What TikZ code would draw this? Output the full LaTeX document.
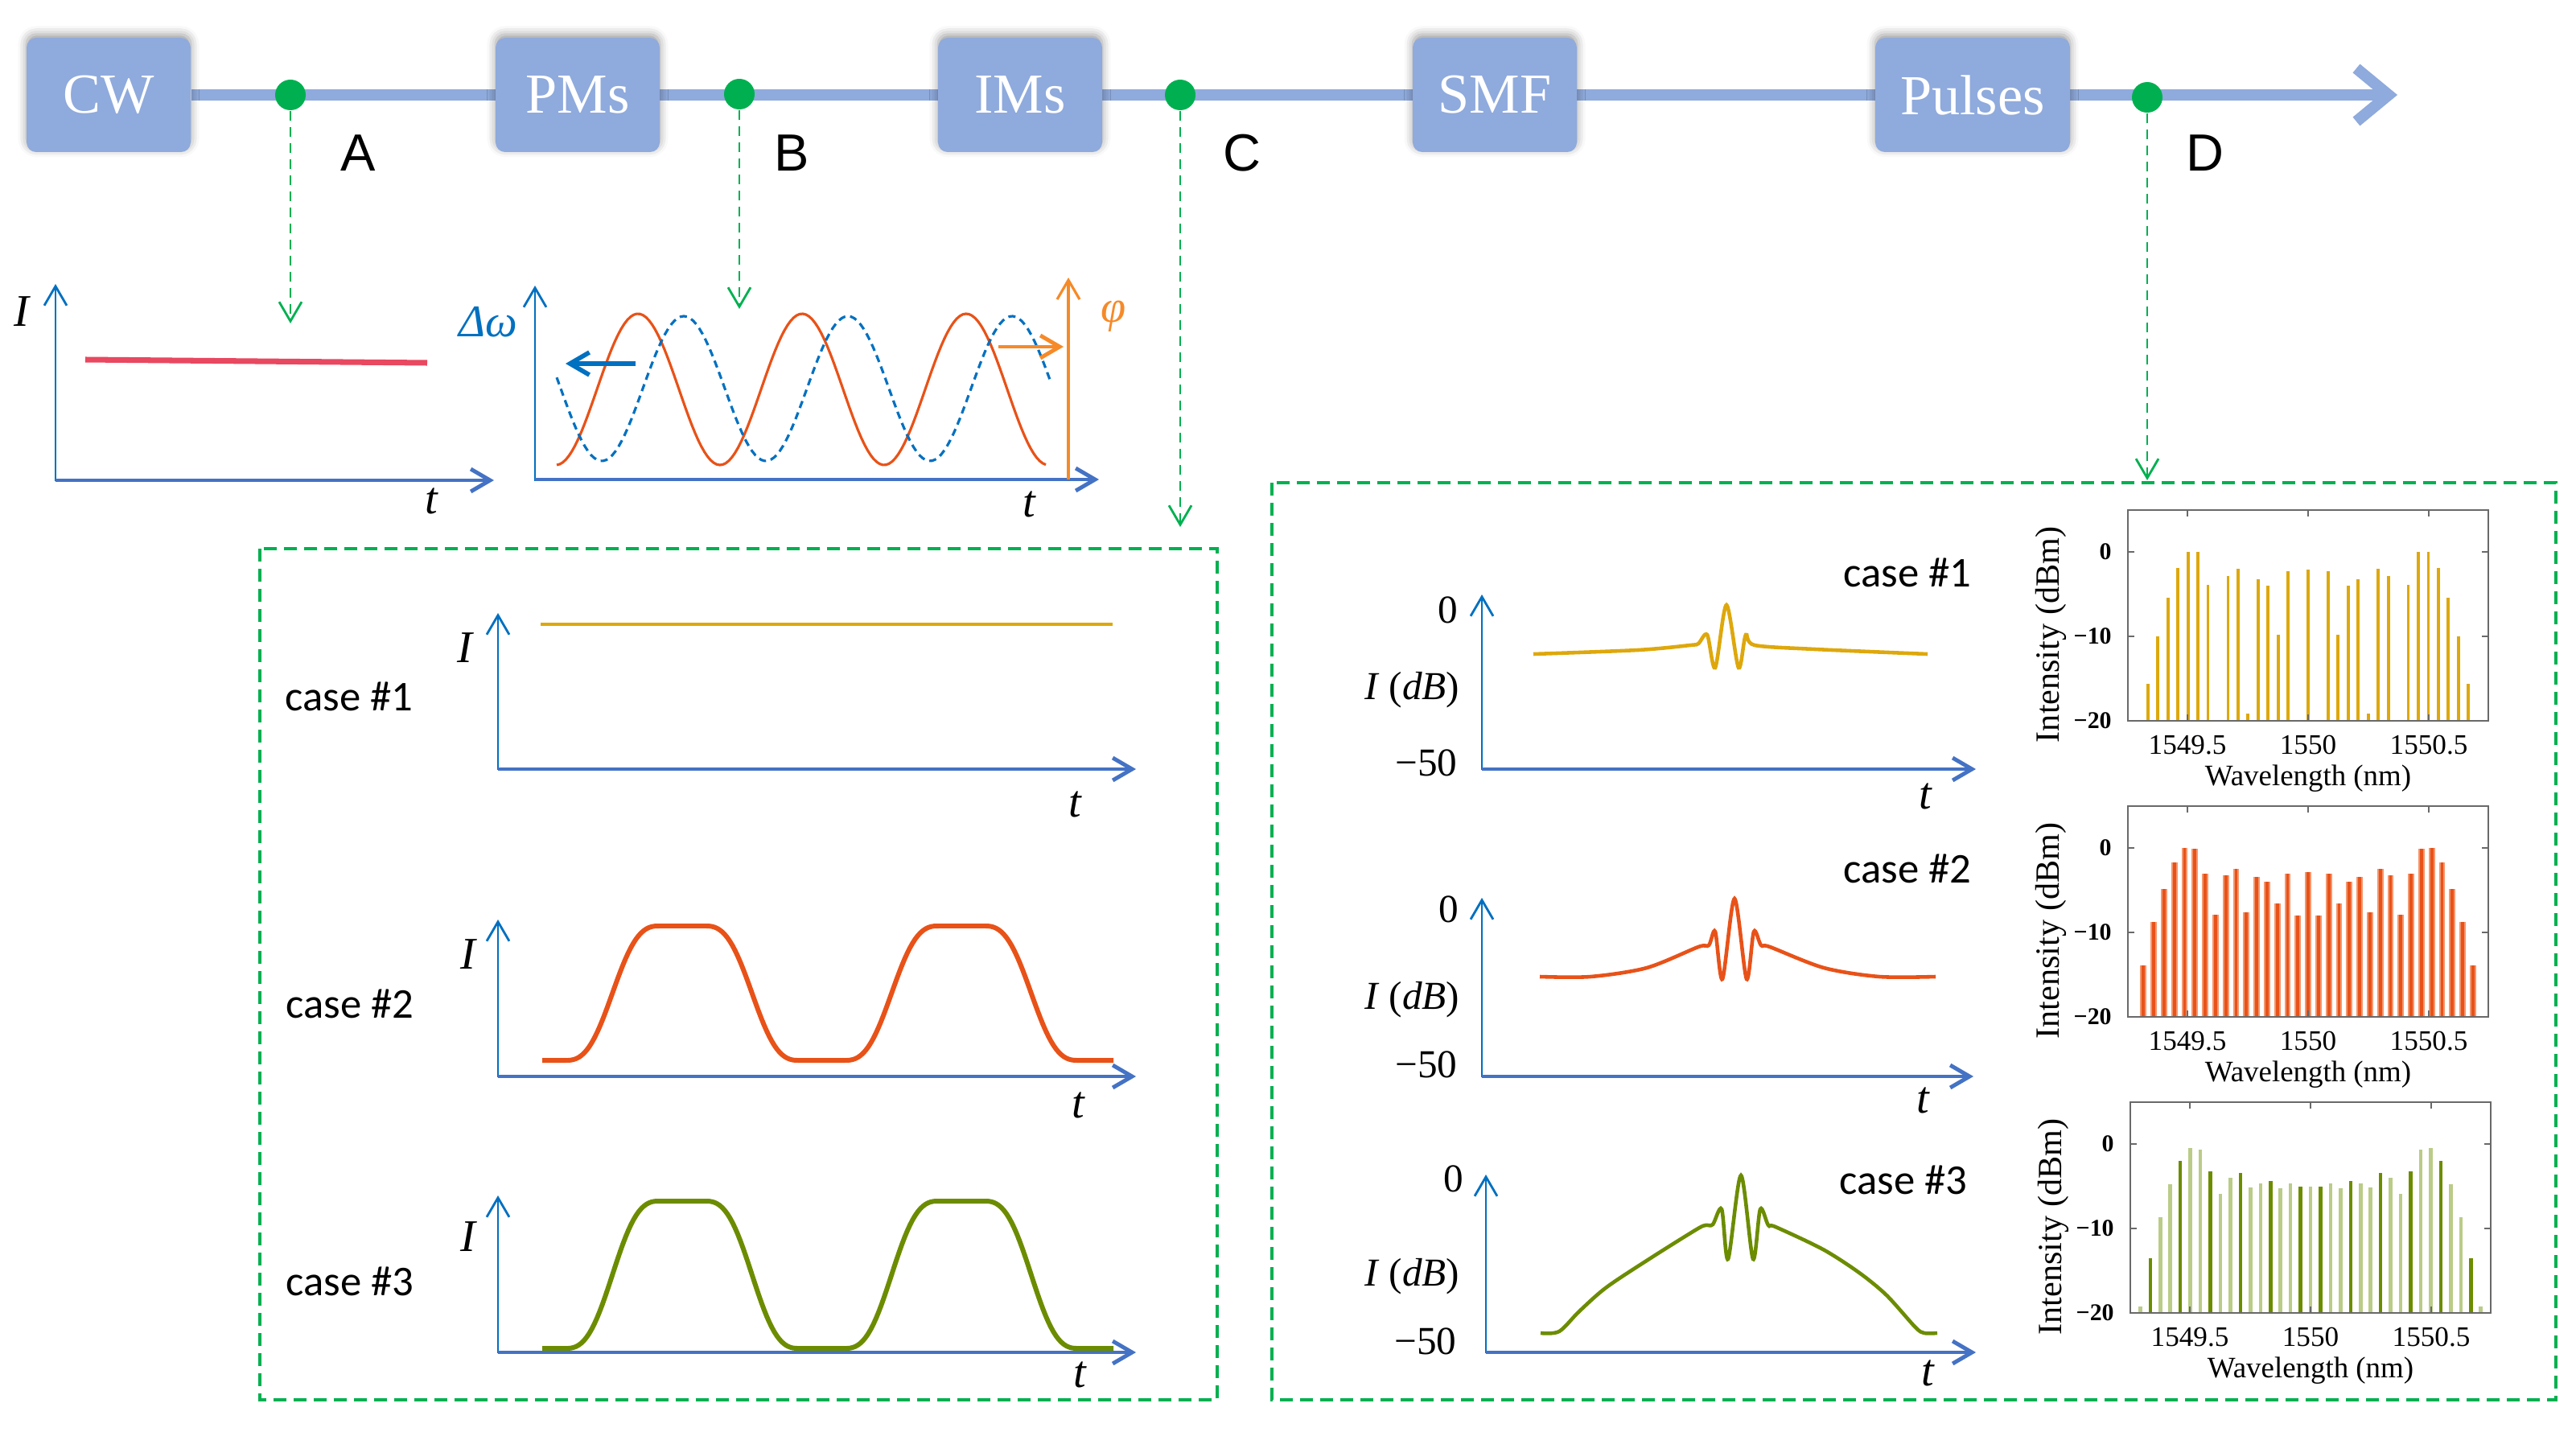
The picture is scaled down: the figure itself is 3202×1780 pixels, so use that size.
\documentclass[tikz,border=0pt]{standalone}
\usepackage{fontspec}
\setmainfont{Liberation Serif}
\newfontfamily\ptfont{Liberation Sans}
\newfontfamily\casefont{Carlito}
\usetikzlibrary{arrows.meta,backgrounds,shadows.blur}
\definecolor{BoxBlue}{RGB}{143,170,220}
\definecolor{DotGreen}{RGB}{0,176,80}
\definecolor{AxisBlue}{RGB}{0,112,192}
\definecolor{AxisLight}{RGB}{68,114,196}
\definecolor{CwRed}{RGB}{232,72,96}
\definecolor{PulseOrange}{RGB}{232,82,24}
\definecolor{BarOrange}{RGB}{244,150,110}
\definecolor{PhaseOrange}{RGB}{246,138,40}
\definecolor{CaseGold}{RGB}{222,168,12}
\definecolor{CaseGreen}{RGB}{108,140,0}
\definecolor{LightGreen}{RGB}{186,204,136}
\definecolor{FrameGray}{RGB}{105,105,105}
\newcommand{\specaxes}{%
 \draw[specframe] (-224,0) rectangle (224,-262);
 \foreach \u in {-150,0,150}{\draw[specframe] (\u,0) -- (\u,-8); \draw[specframe] (\u,-262) -- (\u,-254);}
 \foreach \v in {0,-105,-210}{\draw[specframe] (-224,\v) -- (-216,\v); \draw[specframe] (224,\v) -- (216,\v);}
 \node[xtick] (xa) at (-150,30) {1549.5};
 \node[xtick] (xb) at (0,30) {1550};
 \node[xtick] (xc) at (150,30) {1550.5};
 \node[ytick] (ya) at (-232,-210) {0};
 \node[ytick] (yb) at (-232,-105) {−10};
 \node[ytick] (yc) at (-232,0) {−20};
 \node[wlab] (wl) at (0,72) {Wavelength (nm)};
 \node[ylab] (il) at (-320,-107) {Intensity (dBm)};}

\begin{document}
\begin{tikzpicture}[x=0.1mm,y=-0.1mm,>={Straight Barb[length=2.4mm,width=2.8mm]},
 blk/.style={rectangle,rounded corners=1.2mm,fill=BoxBlue,text=white,minimum width=20.4mm,
  minimum height=14.2mm,font=\fontsize{20}{22}\selectfont,
  blur shadow={shadow xshift=0pt,shadow yshift=1.2pt,shadow blur radius=3pt,shadow opacity=40}},
 mainline/.style={BoxBlue,line width=4pt,-{Straight Barb[length=4mm,width=6.6mm]}},
 tap/.style={circle,fill=DotGreen,minimum size=3.8mm,inner sep=0pt},
 taplab/.style={font=\ptfont\fontsize{18.5}{20}\selectfont},
 probe/.style={->,DotGreen,line width=0.8pt,dash pattern=on 1.2mm off 0.8mm},
 grpbox/.style={DotGreen,line width=1.1pt,dash pattern=on 1.6mm off 0.9mm},
 vax/.style={->,AxisBlue,line width=0.8pt},
 hax/.style={->,AxisLight,line width=1.4pt},
 var/.style={font=\itshape\fontsize{16}{18}\selectfont},
 caselab/.style={font=\casefont\fontsize{15}{17}\selectfont},
 dblab/.style={font=\fontsize{14}{16}\selectfont},
 specframe/.style={FrameGray,line width=0.7pt},
 xtick/.style={font=\fontsize{10}{12}\selectfont},
 ytick/.style={font=\bfseries\fontsize{8.5}{10}\selectfont,anchor=east},
 ylab/.style={font=\fontsize{12}{14}\selectfont,rotate=90},
 wlab/.style={font=\fontsize{10.5}{12}\selectfont}]
\useasboundingbox (0,0) rectangle (3202,1780);

\node[blk] (cw) at (135,118) {CW};
\node[blk] (pm) at (718,118) {PMs};
\node[blk] (im) at (1268,118) {IMs};
\node[blk] (smf) at (1858,118) {SMF};
\node[blk,minimum width=24.2mm] (pul) at (2452,118) {Pulses};
\coordinate (tip) at (2980,118);
\begin{pgfonlayer}{background}
\draw[mainline] (cw.east) -- (tip);
\end{pgfonlayer}
\node[tap] (pA) at (361,118) {};
\node[tap] (pB) at (919,117) {};
\node[tap] (pC) at (1467,118) {};
\node[tap] (pD) at (2669,121) {};
\node[taplab] (labA) at (445,190) {A};
\node[taplab] (labB) at (984,190) {B};
\node[taplab] (labC) at (1544,190) {C};
\node[taplab] (labD) at (2741,190) {D};
\coordinate (endA) at (361,402);
\coordinate (endB) at (919,384);
\coordinate (endC) at (1467,655);
\coordinate (endD) at (2669,597);
\draw[probe] (pA) -- (endA);
\draw[probe] (pB) -- (endB);
\draw[probe] (pC) -- (endC);
\draw[probe] (pD) -- (endD);

\draw[vax] (69,598) -- (69,353);
\draw[hax] (69,597) -- (614,597);
\draw[CwRed,line width=2pt] (106,447) -- (531,451);
\node[var] (iA) at (27,387) {I};
\node[var] (tA) at (536,623) {t};

\draw[vax] (665,598) -- (665,355);
\draw[hax] (665,596) -- (1366,596);
\draw[->,PhaseOrange,line width=0.9pt] (1328,596) -- (1328,345);
\draw[PulseOrange,line width=0.9pt,domain=692:1300,samples=160] plot (\x,{484-94*cos((\x-793)/204*360)});
\draw[AxisBlue,line width=0.9pt,dash pattern=on 0.9mm off 0.6mm,domain=692:1305,samples=160] plot (\x,{483-90*cos((\x-850)/204*360)});
\draw[->,AxisBlue,line width=1.6pt] (790,452) -- (703,452);
\draw[->,PhaseOrange,line width=1.4pt] (1241,431) -- (1322,431);
\node[var,text=AxisBlue] (dw) at (607,400) {Δω};
\node[var,text=PhaseOrange] (phi) at (1384,393) {φ};
\node[var] (tB) at (1279,627) {t};

\draw[grpbox] (323,682) rectangle (1513,1740);
\draw[vax] (619,957) -- (619,762);
\draw[hax] (619,956) -- (1412,956);
\draw[CaseGold,line width=1.2pt] (672,776) -- (1383,776);
\node[caselab] (c1) at (434,866) {case \#1};
\node[var] (i1) at (578,805) {I};
\node[var] (t1) at (1336,1000) {t};

\draw[vax] (619,1339) -- (619,1143);
\draw[hax] (619,1338) -- (1412,1338);
\draw[PulseOrange,line width=1.7pt,domain=674:1384,samples=220] plot (\x,{1318-83.5*(1+sin(90*max(-1,min(1,cos((\x-848)/347*360)/0.85))))});
\node[caselab] (c2) at (435,1248) {case \#2};
\node[var] (i2) at (582,1186) {I};
\node[var] (t2) at (1340,1374) {t};

\draw[vax] (619,1682) -- (619,1486);
\draw[hax] (619,1681) -- (1412,1681);
\draw[CaseGreen,line width=1.7pt,domain=674:1384,samples=220] plot (\x,{1676-91.5*(1+sin(90*max(-1,min(1,cos((\x-848)/347*360)/0.85))))});
\node[caselab] (c3) at (435,1593) {case \#3};
\node[var] (i3) at (582,1537) {I};
\node[var] (t3) at (1342,1709) {t};

\draw[grpbox] (1581,600) rectangle (3177,1740);
\draw[vax] (1842,957) -- (1842,739);
\draw[hax] (1842,956) -- (2456,956);
\draw[CaseGold,line width=1.3pt] plot[smooth,tension=0.5] coordinates {(1906,813) (2036,808) (2101,802) (2111,800) (2122,789) (2132,830) (2146,752) (2161,830) (2170,789) (2181,802) (2256,807) (2396,813)};
\node[dblab] (z1) at (1800,758) {0};
\node[dblab] (d1) at (1755,858) {\textit{I} (\textit{dB})};
\node[dblab] (m1) at (1773,948) {−50};
\node[var] (u1) at (2393,990) {t};
\node[caselab] (k1) at (2371,712) {case \#1};

\draw[vax] (1842,1339) -- (1842,1116);
\draw[hax] (1842,1338) -- (2453,1338);
\draw[PulseOrange,line width=1.3pt] plot[smooth,tension=0.5] coordinates {(1914,1214) (1977,1214) (2047,1203) (2111,1177) (2124,1175) (2132,1158) (2141,1217) (2156,1117) (2171,1217) (2180,1158) (2189,1175) (2200,1177) (2267,1203) (2336,1214) (2406,1214)};
\node[dblab] (z2) at (1801,1130) {0};
\node[dblab] (d2) at (1755,1243) {\textit{I} (\textit{dB})};
\node[dblab] (m2) at (1773,1323) {−50};
\node[var] (u2) at (2390,1368) {t};
\node[caselab] (k2) at (2371,1080) {case \#2};

\draw[vax] (1847,1682) -- (1847,1460);
\draw[hax] (1847,1681) -- (2456,1681);
\draw[CaseGreen,line width=1.3pt] plot[smooth,tension=0.5] coordinates {(1915,1657) (1938,1655) (1963,1630) (1997,1600) (2053,1563) (2109,1528) (2120,1523) (2129,1522) (2140,1503) (2148,1565) (2164,1461) (2179,1565) (2188,1503) (2198,1523) (2207,1525) (2266,1553) (2311,1582) (2345,1610) (2381,1650) (2392,1657) (2408,1657)};
\node[dblab] (z3) at (1807,1465) {0};
\node[dblab] (d3) at (1755,1587) {\textit{I} (\textit{dB})};
\node[dblab] (m3) at (1772,1667) {−50};
\node[var] (u3) at (2396,1707) {t};
\node[caselab] (k3) at (2366,1467) {case \#3};

\begin{scope}[shift={(2869,896)},name prefix=s1-]
\foreach \n/\d in {0/-2.1,2/-2.3,3/-9.8,4/-4.0,5/-3.2,6/-19.1,7/-2.0,8/-2.9,10/-3.9,11/0,12/0,13/-1.9,14/-5.4,15/-10,16/-15.6}{
 \draw[CaseGold,line width=1.1pt] ({\n*12.45},0) -- ({\n*12.45},{-(\d+20)*10.5});
 \draw[CaseGold,line width=1.1pt] ({-\n*12.45},0) -- ({-\n*12.45},{-(\d+20)*10.5});}
\specaxes
\end{scope}

\begin{scope}[shift={(2869,1264)},name prefix=s2-]
\foreach \n/\d in {0/-2.9,1/-8.0,2/-3.0,3/-6.6,4/-4.0,5/-3.4,6/-7.6,7/-2.5,8/-3.2,9/-7.9,10/-3.0,11/-0.1,12/0,13/-1.7,14/-4.9,15/-8.8,16/-13.9}{
 \draw[BarOrange,line width=2.2pt] ({\n*12.8},0) -- ({\n*12.8},{-(\d+20)*10.5});
 \draw[BarOrange,line width=2.2pt] ({-\n*12.8},0) -- ({-\n*12.8},{-(\d+20)*10.5});
 \draw[PulseOrange,line width=1.1pt] ({\n*12.8},0) -- ({\n*12.8},{-(\d+20)*10.5});
 \draw[PulseOrange,line width=1.1pt] ({-\n*12.8},0) -- ({-\n*12.8},{-(\d+20)*10.5});}
\specaxes
\end{scope}

\begin{scope}[shift={(2872,1632)},name prefix=s3-]
\foreach \n/\d/\c in {0/-5.0/LightGreen,1/-5.0/CaseGreen,2/-4.7/LightGreen,3/-5.2/LightGreen,4/-4.4/CaseGreen,5/-4.7/LightGreen,6/-5.1/LightGreen,7/-3.4/CaseGreen,8/-4.0/LightGreen,9/-5.9/LightGreen,10/-3.2/CaseGreen,11/-0.7/LightGreen,12/-0.5/LightGreen,13/-2.0/CaseGreen,14/-4.8/LightGreen,15/-8.7/LightGreen,16/-13.5/CaseGreen,17/-19.2/LightGreen}{
 \draw[\c,line width=1.3pt] ({\n*12.45},0) -- ({\n*12.45},{-(\d+20)*10.5});
 \draw[\c,line width=1.3pt] ({-\n*12.45},0) -- ({-\n*12.45},{-(\d+20)*10.5});}
\specaxes
\end{scope}
\end{tikzpicture}
\end{document}
